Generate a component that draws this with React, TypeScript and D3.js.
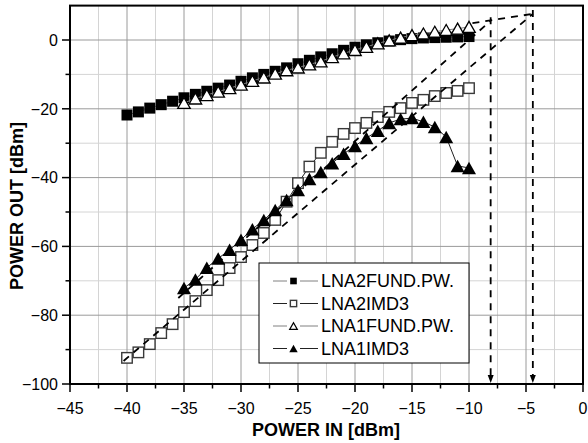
import React from 'react';
import * as d3 from 'd3';

// ---- data ----
const pinLNA2 = [-40, -39, -38, -37, -36, -35, -34, -33, -32, -31, -30, -29, -28, -27, -26, -25, -24, -23, -22, -21, -20, -19, -18, -17, -16, -15, -14, -13, -12, -11, -10];
const pinLNA1 = [-35, -34, -33, -32, -31, -30, -29, -28, -27, -26, -25, -24, -23, -22, -21, -20, -19, -18, -17, -16, -15, -14, -13, -12, -11, -10];

const lna2Fund = [-21.8, -20.9, -19.8, -18.8, -17.8, -16.8, -15.8, -14.9, -14.0, -13.1, -12.0, -11.0, -10.0, -9.1, -8.1, -6.9, -5.9, -4.9, -4.0, -3.0, -2.1, -1.4, -0.8, -0.3, 0.1, 0.4, 0.6, 0.7, 0.8, 0.9, 1.0];
const lna2Imd3 = [-92.4, -90.8, -88.4, -85.2, -82.6, -79.1, -75.9, -72.7, -69.8, -66.3, -63.1, -59.6, -56.1, -52.3, -47.0, -41.6, -36.8, -32.8, -29.6, -27.3, -25.6, -24.1, -22.4, -20.9, -19.8, -18.3, -17.4, -16.3, -15.4, -14.8, -14.0];
const lna1Fund = [-18.3, -17.0, -16.0, -15.0, -14.0, -13.0, -11.9, -10.9, -9.8, -8.8, -8.0, -7.1, -6.2, -5.0, -3.9, -2.9, -2.0, -1.0, -0.1, 0.7, 1.4, 1.9, 2.4, 2.9, 3.3, 3.8];
const lna1Imd3 = [-72.1, -69.6, -66.2, -63.5, -61.0, -58.1, -55.0, -52.3, -49.4, -46.5, -43.6, -40.4, -38.4, -35.8, -33.1, -30.8, -28.5, -26.4, -24.1, -23.0, -22.7, -23.8, -25.3, -28.2, -36.6, -37.2];

// extrapolation lines [x, y] pairs
const extLNA2Imd3 = [[-40.3, -93.3], [-4.4, 7.6]];
const extLNA1Imd3 = [[-35.5, -75.0], [-8.1, 5.6]];
const extFund = [[-9.7, 4.9], [-4.4, 7.6]];
const iip3Lines = [[-8.1, 6.6], [-4.4, 8.7]]; // [x, top y]

const xTicks = [-45, -40, -35, -30, -25, -20, -15, -10, -5, 0];
const yTicks = [-100, -80, -60, -40, -20, 0];
const legendLabels = ['LNA2FUND.PW.', 'LNA2IMD3', 'LNA1FUND.PW.', 'LNA1IMD3'];

const FONT = '"Liberation Sans", Arial, Helvetica, sans-serif';

function tri(cx: number, cy: number, w: number, h: number) {
  const p = d3.path();
  p.moveTo(cx, cy - h / 2);
  p.lineTo(cx + w / 2, cy + h / 2);
  p.lineTo(cx - w / 2, cy + h / 2);
  p.closePath();
  return p.toString();
}

export default function App() {
  const W = 588, H = 443;
  const L = 70, R = 583, T = 5.6, B = 384;
  const x = d3.scaleLinear().domain([-45, 0]).range([L, R]);
  const y = d3.scaleLinear().domain([-100, 10]).range([B, T]);
  const fmt = d3.format('d');

  const xMinor = xTicks.slice(0, -1).map((v) => v + 2.5);
  const yMinor = yTicks.map((v) => v + 10);

  const line = d3.line<[number, number]>().x((d) => x(d[0])).y((d) => y(d[1]));
  const zip = (xs: number[], ys: number[]) => xs.map((v, i) => [v, ys[i]] as [number, number]);

  const s2f = zip(pinLNA2, lna2Fund);
  const s2i = zip(pinLNA2, lna2Imd3);
  const s1f = zip(pinLNA1, lna1Fund);
  const s1i = zip(pinLNA1, lna1Imd3);

  const dash = '7,6';

  // legend
  const lgX = 259, lgY = 263, lgW = 210, lgH = 100;
  const rowY = [281, 303.5, 326, 348.5];
  const lineCol = ['#808080', '#222', '#808080', '#222'];

  const marker = (i: number, cx: number, cy: number, small: boolean) => {
    const k = small ? 0.6 : 1;
    if (i === 0) {
      const s = 11 * k;
      return <rect key={`m${i}-${cx}`} x={cx - s / 2} y={cy - s / 2} width={s} height={s} fill="#000" />;
    }
    if (i === 1) {
      const s = 10.5 * k;
      return <rect key={`m${i}-${cx}`} x={cx - s / 2} y={cy - s / 2} width={s} height={s} fill="#fff" stroke="#3a3a3a" strokeWidth={1.4} />;
    }
    if (i === 2) {
      return <path key={`m${i}-${cx}`} d={tri(cx, cy, 12.5 * k, 11 * k)} fill="#fff" stroke="#000" strokeWidth={1.3} />;
    }
    return <path key={`m${i}-${cx}`} d={tri(cx, cy, 14 * k, 12.5 * k)} fill="#000" />;
  };

  const series = [s2f, s1f, s2i, s1i];
  const seriesIdx = [0, 2, 1, 3];

  return (
    <svg width={W} height={H} style={{ position: 'absolute', left: 0, top: 0, background: '#fff' }} fontFamily={FONT}>
      <rect x={0} y={0} width={W} height={H} fill="#fff" />
      {/* grid */}
      {xMinor.map((v) => (
        <line key={`gxm${v}`} x1={x(v)} x2={x(v)} y1={T} y2={B} stroke="#d4d4d4" strokeWidth={1} />
      ))}
      {yMinor.map((v) => (
        <line key={`gym${v}`} x1={L} x2={R} y1={y(v)} y2={y(v)} stroke="#d4d4d4" strokeWidth={1} />
      ))}
      {xTicks.map((v) => (
        <line key={`gx${v}`} x1={x(v)} x2={x(v)} y1={T} y2={B} stroke="#9a9a9a" strokeWidth={1} />
      ))}
      {yTicks.map((v) => (
        <line key={`gy${v}`} x1={L} x2={R} y1={y(v)} y2={y(v)} stroke="#9a9a9a" strokeWidth={1} />
      ))}

      {/* series */}
      {series.map((s, j) => {
        const i = seriesIdx[j];
        return (
          <g key={`s${i}`}>
            <path d={line(s) || ''} fill="none" stroke={lineCol[i]} strokeWidth={1} />
            {s.map((d) => marker(i, x(d[0]), y(d[1]), false))}
          </g>
        );
      })}

      {/* extrapolation dashed lines */}
      {[extLNA2Imd3, extLNA1Imd3, extFund].map((seg, k) => (
        <path key={`ext${k}`} d={line(seg as [number, number][]) || ''} fill="none" stroke="#000" strokeWidth={1.8} strokeDasharray={dash} />
      ))}
      {iip3Lines.map(([xv, top], k) => (
        <g key={`iip${k}`}>
          <line x1={x(xv)} x2={x(xv)} y1={y(top)} y2={B - 7} stroke="#000" strokeWidth={1.8} strokeDasharray={dash} />
          <path d={`M${x(xv) - 3},${B - 9} L${x(xv) + 3},${B - 9} L${x(xv)},${B - 1} Z`} fill="#000" />
        </g>
      ))}

      {/* frame & axes */}
      <rect x={L} y={T} width={R - L} height={B - T} fill="none" stroke="#000" strokeWidth={2} />

      {/* ticks */}
      {xTicks.map((v) => (
        <g key={`xt${v}`}>
          <line x1={x(v)} x2={x(v)} y1={B} y2={B + 8} stroke="#000" strokeWidth={1.5} />
          <text x={x(v)} y={414} textAnchor="middle" fontSize={16} fill="#000">{fmt(v)}</text>
        </g>
      ))}
      {xMinor.map((v) => (
        <line key={`xmt${v}`} x1={x(v)} x2={x(v)} y1={B} y2={B + 4.5} stroke="#000" strokeWidth={1.5} />
      ))}
      {yTicks.map((v) => (
        <g key={`yt${v}`}>
          <line x1={L - 8} x2={L} y1={y(v)} y2={y(v)} stroke="#000" strokeWidth={1.5} />
          <text x={58} y={y(v) + 5.8} textAnchor="end" fontSize={16} fill="#000">{fmt(v)}</text>
        </g>
      ))}
      {yMinor.filter((v) => v < 10).map((v) => (
        <line key={`ymt${v}`} x1={L - 4.5} x2={L} y1={y(v)} y2={y(v)} stroke="#000" strokeWidth={1.5} />
      ))}

      {/* axis titles */}
      <text x={326} y={436} textAnchor="middle" fontSize={18} fontWeight="bold" fill="#000">POWER IN [dBm]</text>
      <text transform="translate(23,206) rotate(-90)" textAnchor="middle" fontSize={18} fontWeight="bold" fill="#000">POWER OUT [dBm]</text>

      {/* legend */}
      <rect x={lgX} y={lgY} width={lgW} height={lgH} fill="#fff" stroke="#000" strokeWidth={1} />
      {legendLabels.map((lab, i) => (
        <g key={`lg${i}`}>
          <line x1={273} x2={287} y1={rowY[i]} y2={rowY[i]} stroke={lineCol[i]} strokeWidth={1} />
          <line x1={300} x2={318} y1={rowY[i]} y2={rowY[i]} stroke={lineCol[i]} strokeWidth={1} />
          {marker(i, 293.5, rowY[i], true)}
          <text x={321} y={rowY[i] + 6.4} fontSize={18} fill="#000">{lab}</text>
        </g>
      ))}
    </svg>
  );
}
